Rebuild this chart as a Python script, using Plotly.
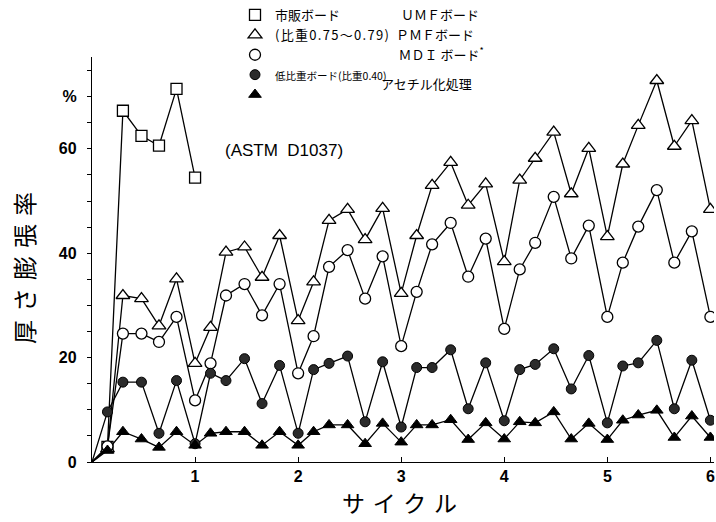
import plotly.graph_objects as go

# x positions of the measurement steps (cycles)
cycle_x = [0.00,
           0.15, 0.30, 0.48, 0.65, 0.82, 1.00,
           1.15, 1.30, 1.48, 1.65, 1.82, 2.00,
           2.15, 2.30, 2.48, 2.65, 2.82, 3.00,
           3.15, 3.30, 3.48, 3.65, 3.82, 4.00,
           4.15, 4.30, 4.48, 4.65, 4.82, 5.00,
           5.15, 5.30, 5.48, 5.65, 5.82, 6.00]

# thickness swelling (%)
commercial = [0, 2.9, 67.3, 62.5, 60.6, 71.5, 54.5]
umf = [0, 2.5, 31.9, 31.3, 26.1, 35.1, 18.9,
       25.8, 40.2, 41.2, 35.4, 43.4, 27.1,
       34.5, 46.3, 48.4, 42.6, 48.6, 32.3,
       43.4, 53.0, 57.4, 49.2, 53.3, 38.4,
       54.0, 58.2, 63.2, 51.4, 60.1, 43.2,
       57.1, 64.5, 73.1, 60.5, 65.4, 48.4]
pmf = [0, 3.0, 24.6, 24.6, 23.0, 27.8, 11.8,
       18.9, 31.9, 34.1, 28.1, 34.1, 17.0,
       24.1, 37.4, 40.6, 31.3, 39.4, 22.2,
       32.6, 41.7, 45.8, 35.5, 42.8, 25.5,
       36.9, 42.0, 50.8, 39.0, 45.3, 27.8,
       38.2, 45.1, 52.1, 38.2, 44.2, 27.8]
low_density = [0, 9.6, 15.3, 15.3, 5.5, 15.6, 3.5,
               17.0, 15.6, 19.8, 11.2, 18.5, 5.5,
               17.7, 18.9, 20.3, 7.7, 19.2, 6.7,
               18.1, 18.1, 21.5, 10.2, 19.0, 7.9,
               17.7, 18.7, 21.7, 14.0, 20.4, 7.5,
               18.4, 19.0, 23.3, 10.2, 19.5, 8.0]
acetylated = [0, 2.2, 5.8, 4.4, 2.8, 5.8, 3.2,
              5.5, 5.8, 5.8, 3.2, 5.8, 3.2,
              5.8, 7.1, 7.1, 3.5, 7.4, 3.8,
              7.1, 7.1, 8.1, 4.3, 7.5, 4.4,
              7.7, 7.5, 9.6, 4.4, 7.4, 4.3,
              8.0, 9.0, 9.9, 4.7, 8.8, 4.7]

SP = "\u3000"
legend_names = [
    "市販ボード",
    "<span style='letter-spacing:1.3px'>(比重0.75〜0.79)</span>",
    SP * 9 + "\u2002ＭＤＩ ボード<sup>*</sup>",
    "<span style='font-size:10.5px'>低比重ボード(比重0.40)</span>",
    " ",
]
right_texts = ["ＵＭＦボード", "ＰＭＦボード", "アセチル化処理"]

y_tickvals = [0, 5, 10, 15, 20, 25, 30, 35, 40, 45, 50, 55, 60, 65, 70, 75]
y_ticktext = ["0", "", "", "", "20", "", "", "", "40", "", "", "", "60", "", "%", ""]
x_tickvals = [1, 2, 3, 4, 5, 6]
x_ticktext = ["1", "2", "3", "4", "5", "6"]

CJK = "Noto Sans CJK JP"
LAT = "Liberation Sans"

W, H = 716, 522
L, R, T, B = 92, 2, 57, 60
PW, PH = W - L - R, H - T - B


def px(xp):
    return (xp - L) / PW


def py(yp):
    return (H - B - yp) / PH


line_w = 1.3
markers = [
    dict(symbol="square", color="white", size=11, line=dict(color="black", width=1.3)),
    dict(symbol="triangle-up", color="white", size=12, line=dict(color="black", width=1.3)),
    dict(symbol="circle", color="white", size=11, line=dict(color="black", width=1.3)),
    dict(symbol="circle", color="#2b2b2b", size=10, line=dict(color="black", width=1)),
    dict(symbol="triangle-up", color="black", size=11, line=dict(color="black", width=1)),
]
series = [commercial, umf, pmf, low_density, acetylated]

fig = go.Figure()
for ys in series:
    fig.add_trace(go.Scatter(x=cycle_x[:len(ys)], y=ys, mode="lines",
                             line=dict(color="black", width=line_w),
                             showlegend=False, hoverinfo="skip"))
for ys, mk in zip(series, markers):
    fig.add_trace(go.Scatter(x=cycle_x[1:len(ys)], y=ys[1:], mode="markers",
                             marker=mk, showlegend=False))
for name, mk in zip(legend_names, markers):
    fig.add_trace(go.Scatter(x=[None], y=[None], mode="markers", marker=mk,
                             name=name, showlegend=True))

ann = []
right_pos = [(399, 14), (394, 34), (379, 83)]
for txt, (xp, yp) in zip(right_texts, right_pos):
    ann.append(dict(x=px(xp), y=py(yp), xref="paper", yref="paper", text=txt,
                    showarrow=False, xanchor="left", yanchor="middle",
                    font=dict(family=CJK, size=13, color="black")))
ann.append(dict(x=px(223), y=py(150), xref="paper", yref="paper", text="(ASTM  D1037)",
                showarrow=False, xanchor="left", yanchor="middle",
                font=dict(family=LAT, size=17, color="black")))
ann.append(dict(x=px(23), y=py(268), xref="paper", yref="paper",
                text="厚\u2004さ\u2004膨\u2004張\u2004率", textangle=-90,
                showarrow=False, xanchor="center", yanchor="middle",
                font=dict(family=CJK, size=24, color="black")))
ann.append(dict(x=px(399), y=py(521), xref="paper", yref="paper",
                text="サ\u2004イ\u2004ク\u2004ル",
                showarrow=False, xanchor="center", yanchor="bottom",
                font=dict(family=CJK, size=23, color="black")))

fig.update_layout(
    width=W, height=H,
    margin=dict(l=L, r=R, t=T, b=B, autoexpand=False),
    paper_bgcolor="white", plot_bgcolor="white",
    showlegend=True,
    legend=dict(xref="container", yref="container", x=235 / W, y=1.0,
                xanchor="left", yanchor="top", bgcolor="rgba(0,0,0,0)",
                font=dict(family=CJK, size=13, color="black"),
                tracegroupgap=0, itemclick=False),
    annotations=ann,
    xaxis=dict(range=[0, 6.035], showline=True, linecolor="black", linewidth=1.3,
               showgrid=False, zeroline=False, tickvals=x_tickvals, ticktext=x_ticktext,
               ticks="inside", ticklen=5, tickcolor="black", tickwidth=1.2,
               automargin=False,
               tickfont=dict(family=LAT, size=16, color="black", weight="bold")),
    yaxis=dict(range=[0, 77.6], showline=True, linecolor="black", linewidth=1.3,
               showgrid=False, zeroline=False, tickvals=y_tickvals, ticktext=y_ticktext,
               ticks="outside", ticklen=4, tickcolor="black", tickwidth=1.2,
               ticklabelstandoff=7, automargin=False,
               tickfont=dict(family=LAT, size=16, color="black", weight="bold")),
)

fig.write_html("out.html")
